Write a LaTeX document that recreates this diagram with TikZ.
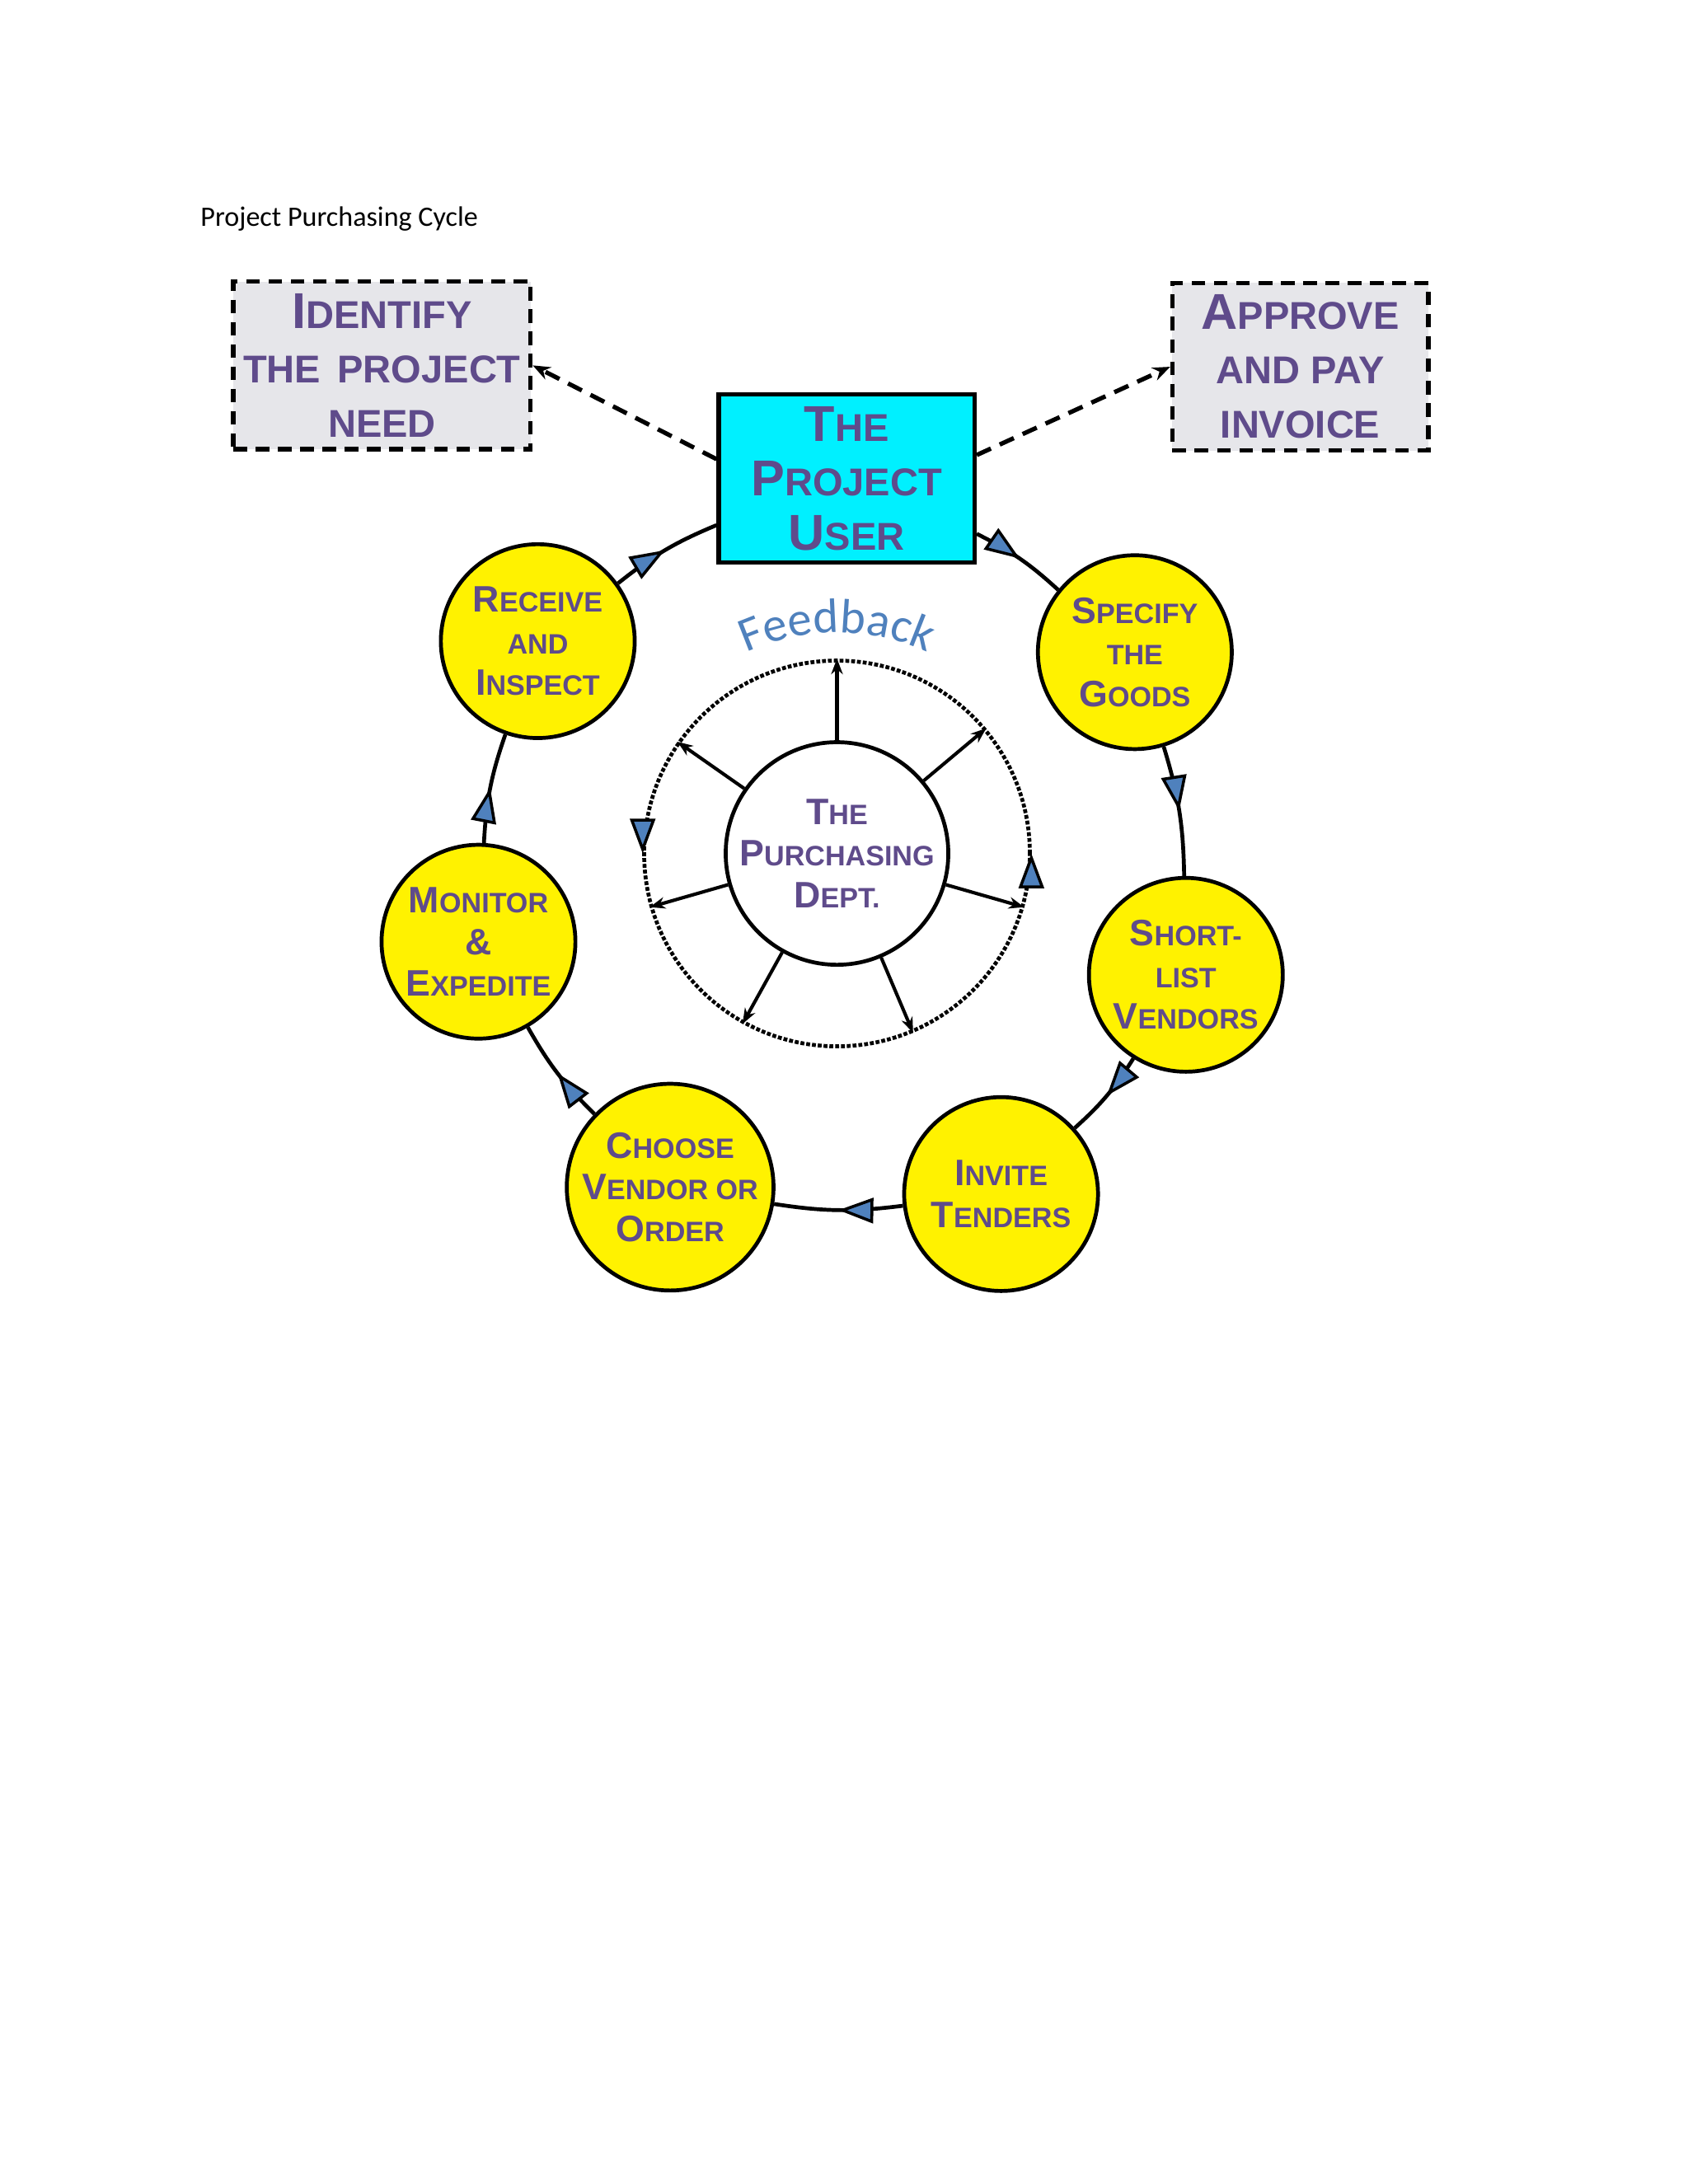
\documentclass[tikz,border=0pt]{standalone}
\usepackage{fontspec}
\setmainfont{Liberation Sans}
\newfontfamily\titlefont{Carlito}
\usetikzlibrary{arrows.meta,decorations.markings,decorations.text}
\definecolor{cpurple}{RGB}{95,75,139}
\definecolor{tblue}{RGB}{79,129,189}
\definecolor{boxgray}{RGB}{230,230,234}
\definecolor{ucyan}{RGB}{0,240,255}
\newcommand{\cp}[2]{{\fontsize{#1}{#1}\selectfont\MakeUppercase{#2}}}
\tikzset{
  stage/.style={circle,draw,line width=4pt,fill=yellow,minimum size=200,inner sep=0pt,
    text=cpurple,align=center,font=\bfseries\fontsize{38}{43}\selectfont},
  endbox/.style={draw,dashed,dash pattern=on 14pt off 9pt,line width=4.5pt,fill=boxgray,
    minimum width=264,minimum height=173,text=cpurple,align=center,
    font=\bfseries\fontsize{52}{56}\selectfont},
  tri/.tip={Triangle[length=36pt,width=26pt,fill=tblue]},
  cycle/.style={line width=4pt,postaction={decorate},
    decoration={markings,mark=at position 0.5 with {\arrow[line width=3pt]{tri}}}},
  ray/.style={line width=3.5pt,-{Stealth[length=16pt,width=12pt]}},
}
\begin{document}
\begin{tikzpicture}[x=0.05cm,y=0.05cm]
\useasboundingbox (0,0) rectangle (1224,-1584);
\node[anchor=base west,font=\titlefont\fontsize{29}{34}\selectfont] (title) at (143,-164) {Project Purchasing Cycle};
% end boxes
\node[endbox,text width=300,minimum width=264] (need) at (277,-265) {I\cp{40}{dentify}\\\cp{40}{the project}\\\cp{40}{need}};
\node[endbox] (invoice) at (943,-266) {A\cp{40}{pprove}\\\cp{40}{and pay}\\\cp{40}{invoice}};
% user
\node[draw,line width=4.5pt,fill=ucyan,minimum width=264,minimum height=173,text=cpurple,align=center,
  font=\bfseries\fontsize{52}{56}\selectfont] (user) at (614,-347) {T\cp{40}{he}\\P\cp{40}{roject}\\U\cp{40}{ser}};
% stages
\node[stage] (receive) at (390,-465) {R\cp{29}{eceive}\\\cp{29}{and}\\I\cp{29}{nspect}};
\node[stage] (specify) at (823,-473) {S\cp{29}{pecify}\\\cp{29}{the}\\G\cp{29}{oods}};
\node[stage] (short) at (860,-707) {S\cp{29}{hort-}\\\cp{29}{list}\\V\cp{29}{endors}};
\node[stage] (invite) at (726,-866) {I\cp{29}{nvite}\\T\cp{29}{enders}};
\node[stage] (choose) at (486,-861) {C\cp{29}{hoose}\\V\cp{29}{endor or}\\O\cp{29}{rder}};
\node[stage] (monitor) at (347,-683) {M\cp{29}{onitor}\\\&\\E\cp{29}{xpedite}};
% centre
\node[circle,draw,line width=4pt,fill=white,minimum size=200,inner sep=0pt,text=cpurple,align=center,
  font=\bfseries\fontsize{38}{43}\selectfont] (dept) at (607,-619) {T\cp{29}{he}\\P\cp{29}{urchasing}\\D\cp{29}{ept.}};
\node[circle,draw,dotted,line width=4pt,minimum size=398,inner sep=0pt] (fb) at (607,-619) {};
\path[decorate,decoration={text along path,text={|\titlefont\fontsize{50}{50}\selectfont\color{tblue}|Feedback},text align=center}]
  (607,-619) ++(118:160) arc[start angle=118,end angle=62,radius=160];
% rays
\foreach \a in {90,40,-16,-67,-119,-164,145}
  \draw[ray] (dept.\a) -- (fb.\a);
% feedback markers
\path[postaction={decorate},decoration={markings,mark=at position 0.5 with {\arrow[line width=3pt]{tri}}}]
  (fb.176) -- (fb.184);
\path[postaction={decorate},decoration={markings,mark=at position 0.5 with {\arrow[line width=3pt]{tri}}}]
  (fb.-4) -- (fb.4);
% cycle
\draw[cycle] (user) to[bend left=8] (specify);
\draw[cycle] (specify) to[bend left=8] (short);
\draw[cycle] (short) to[bend left=8] (invite);
\draw[cycle] (invite) to[bend left=8] (choose);
\draw[cycle] (choose) to[bend left=8] (monitor);
\draw[cycle] (monitor) to[bend left=8] (receive);
\draw[cycle] (receive) to[bend left=8] (user);
% dashed links
\draw[line width=4.5pt,dash pattern=on 16pt off 10pt,-{Stealth[length=18pt,width=14pt]}] (user.west) ++(0,14) -- (need.east);
\draw[line width=4.5pt,dash pattern=on 16pt off 10pt,-{Stealth[length=18pt,width=14pt]}] (user.east) ++(0,17) -- (invoice.west);
\end{tikzpicture}
\end{document}
